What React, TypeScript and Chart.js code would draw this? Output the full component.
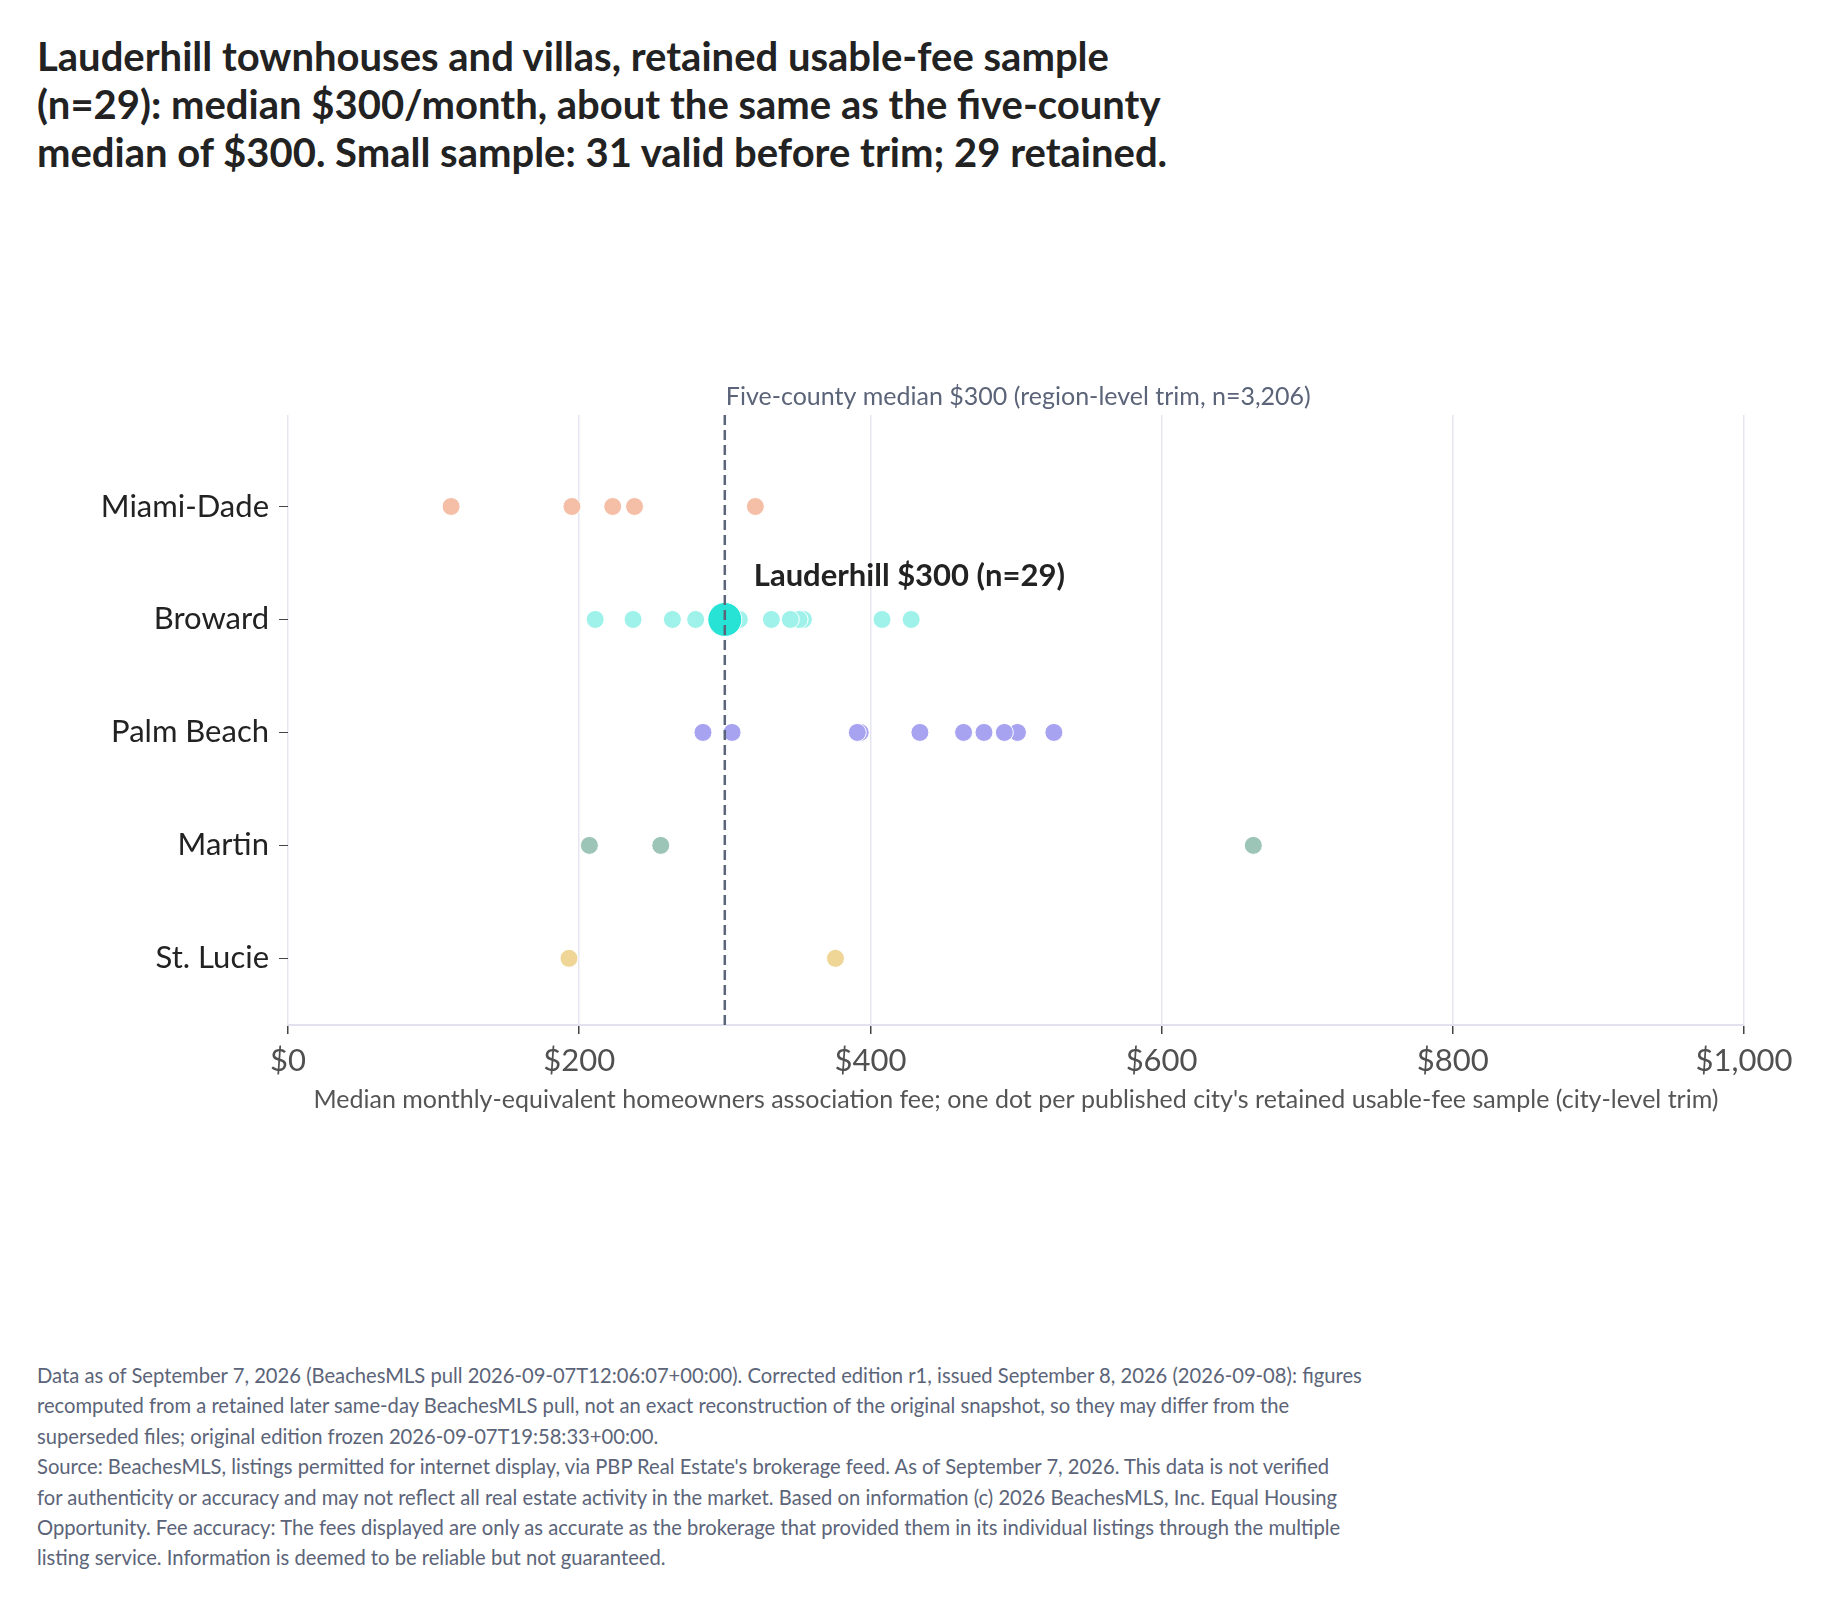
import { useEffect, useRef } from "react";
import { Chart, registerables, Plugin } from "chart.js";

Chart.register(...registerables);

const counties = ["Miami-Dade", "Broward", "Palm Beach", "Martin", "St. Lucie"];
const countyColors = ["#f5bfa7", "#9ff2ea", "#a7a3f1", "#9cc5b7", "#efd596"];

// one median per published city, by county
const miamiDade = [112, 195, 223, 238, 321];
const broward = [211, 237, 264, 280, 310, 332, 345, 351, 354, 408, 428];
const palmBeach = [285, 305, 391, 393, 434, 464, 478, 492, 501, 526];
const martin = [207, 256, 663];
const stLucie = [193, 376];
const cityValues = [miamiDade, broward, palmBeach, martin, stLucie];

const lauderhillFee = 300;
const lauderhillCounty = 1;
const lauderhillLabel = "Lauderhill $300 (n=29)";
const fiveCountyMedian = 300;
const medianLabel = "Five-county median $300 (region-level trim, n=3,206)";

const xTicks = [0, 200, 400, 600, 800, 1000];

const titleLines = [
  "Lauderhill townhouses and villas, retained usable-fee sample",
  "(n=29): median $300/month, about the same as the five-county",
  "median of $300. Small sample: 31 valid before trim; 29 retained.",
];

const footerLines = [
  "Data as of September 7, 2026 (BeachesMLS pull 2026-09-07T12:06:07+00:00). Corrected edition r1, issued September 8, 2026 (2026-09-08): figures",
  "recomputed from a retained later same-day BeachesMLS pull, not an exact reconstruction of the original snapshot, so they may differ from the",
  "superseded files; original edition frozen 2026-09-07T19:58:33+00:00.",
  "Source: BeachesMLS, listings permitted for internet display, via PBP Real Estate's brokerage feed. As of September 7, 2026. This data is not verified",
  "for authenticity or accuracy and may not reflect all real estate activity in the market. Based on information (c) 2026 BeachesMLS, Inc. Equal Housing",
  "Opportunity. Fee accuracy: The fees displayed are only as accurate as the brokerage that provided them in its individual listings through the multiple",
  "listing service. Information is deemed to be reliable but not guaranteed.",
];

const FONT = "Lato, 'Noto Sans', sans-serif";

const medianPlugin: Plugin = {
  id: "medianLine",
  afterDatasetsDraw(chart) {
    const { ctx, chartArea } = chart;
    const x = chart.scales.x.getPixelForValue(fiveCountyMedian);
    ctx.save();
    ctx.strokeStyle = "#5b6478";
    ctx.lineWidth = 2.5;
    ctx.setLineDash([10, 5]);
    ctx.beginPath();
    ctx.moveTo(x, chartArea.top);
    ctx.lineTo(x, chartArea.bottom);
    ctx.stroke();
    ctx.setLineDash([]);
    ctx.fillStyle = "#5b6478";
    ctx.font = `25px ${FONT}`;
    ctx.textAlign = "left";
    ctx.textBaseline = "middle";
    ctx.fillText(medianLabel, x + 1, chartArea.top - 18);
    ctx.restore();
  },
  afterDraw(chart) {
    const { ctx } = chart;
    const x = chart.scales.x.getPixelForValue(lauderhillFee);
    const y = chart.scales.y.getPixelForValue(lauderhillCounty);
    ctx.save();
    ctx.fillStyle = "#222222";
    ctx.font = `bold 31px ${FONT}`;
    ctx.textAlign = "left";
    ctx.textBaseline = "middle";
    ctx.fillText(lauderhillLabel, x + 29, y - 43);
    ctx.restore();
  },
};

function DotChart() {
  const canvasRef = useRef<HTMLCanvasElement | null>(null);

  useEffect(() => {
    if (!canvasRef.current) return;
    const datasets: any[] = [
      {
        label: "Lauderhill",
        data: [{ x: lauderhillFee, y: lauderhillCounty }],
        backgroundColor: "#26e3d5",
        borderColor: "#ffffff",
        borderWidth: 1,
        pointRadius: 17,
        order: -1,
      },
    ];
    cityValues.forEach((vals, i) => {
      datasets.push({
        label: counties[i],
        data: vals
          .slice()
          .reverse()
          .map((v) => ({ x: v, y: i })),
        backgroundColor: countyColors[i],
        borderColor: "#ffffff",
        borderWidth: 1,
        pointRadius: 9,
        order: i,
      });
    });

    const chart = new Chart(canvasRef.current, {
      type: "scatter",
      data: { datasets },
      options: {
        responsive: false,
        animation: false,
        layout: { padding: { top: 115, right: 86, left: 0, bottom: 0 } },
        plugins: {
          legend: { display: false },
          tooltip: { enabled: false },
        },
        scales: {
          x: {
            type: "linear",
            min: 0,
            max: 1000,
            afterBuildTicks: (scale) => {
              scale.ticks = xTicks.map((v) => ({ value: v }));
            },
            afterFit: (scale) => {
              scale.height = 125;
            },
            grid: {
              color: "#e6e6f1",
              lineWidth: 1.5,
              tickColor: "#444444",
              tickLength: 9,
            },
            border: { color: "#e2e2ef", width: 2 },
            ticks: {
              padding: 8,
              color: "#505050",
              font: { family: FONT, size: 31 },
              callback: (v) => "$" + Number(v).toLocaleString("en-US"),
            },
            title: {
              display: true,
              text: "Median monthly-equivalent homeowners association fee; one dot per published city's retained usable-fee sample (city-level trim)",
              color: "#555555",
              font: { family: FONT, size: 25 },
              padding: { top: 0, bottom: 35 },
            },
          },
          y: {
            type: "linear",
            reverse: true,
            min: -0.81,
            max: 4.59,
            afterBuildTicks: (scale) => {
              scale.ticks = counties.map((_, i) => ({ value: i }));
            },
            afterFit: (scale) => {
              scale.width = 288;
            },
            grid: {
              drawOnChartArea: false,
              tickColor: "#444444",
              tickLength: 9,
            },
            border: { display: false },
            ticks: {
              padding: 10,
              color: "#222222",
              font: { family: FONT, size: 31 },
              callback: (v) => counties[Number(v)] ?? "",
            },
          },
        },
      },
      plugins: [medianPlugin],
    });
    return () => {
      chart.destroy();
    };
  }, []);

  return (
    <canvas
      ref={canvasRef}
      width={1830}
      height={850}
      style={{ position: "absolute", left: 0, top: 300, width: 1830, height: 850 }}
    ></canvas>
  );
}

export default function App() {
  return (
    <div
      style={{
        position: "absolute",
        left: 0,
        top: 0,
        width: 1830,
        height: 1605,
        background: "#ffffff",
        fontFamily: FONT,
        overflow: "hidden",
      }}
    >
      <div
        style={{
          position: "absolute",
          left: 37,
          top: 32,
          fontSize: 40,
          lineHeight: "48px",
          fontWeight: 700,
          color: "#222222",
        }}
      >
        {titleLines.map((t) => (
          <div key={t}>{t}</div>
        ))}
      </div>
      <DotChart />
      <div
        style={{
          position: "absolute",
          left: 37,
          top: 1360,
          fontSize: 20.2,
          lineHeight: "30.4px",
          color: "#5b6478",
          whiteSpace: "nowrap",
        }}
      >
        {footerLines.map((t) => (
          <div key={t}>{t}</div>
        ))}
      </div>
    </div>
  );
}
